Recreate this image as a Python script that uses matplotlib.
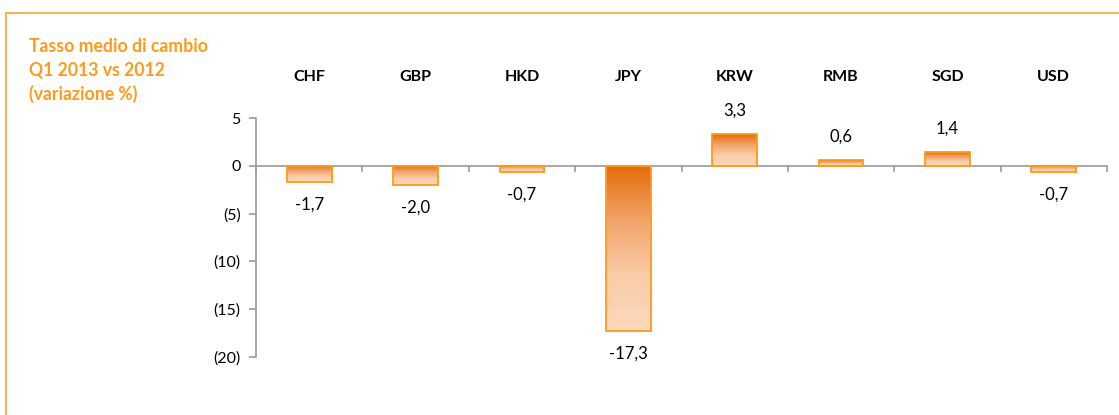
import matplotlib
matplotlib.use("Agg")
import matplotlib.pyplot as plt
import numpy as np
from matplotlib.colors import LinearSegmentedColormap
from matplotlib.patches import Rectangle
from matplotlib.lines import Line2D

categories = ["CHF", "GBP", "HKD", "JPY", "KRW", "RMB", "SGD", "USD"]
values = [-1.7, -2.0, -0.7, -17.3, 3.3, 0.6, 1.4, -0.7]
labels = ["-1,7", "-2,0", "-0,7", "-17,3", "3,3", "0,6", "1,4", "-0,7"]
yticks = [5, 0, -5, -10, -15, -20]
yticklabels = ["5", "0", "(5)", "(10)", "(15)", "(20)"]
title_lines = ["Tasso medio di cambio", "Q1 2013 vs 2012", "(variazione %)"]

plt.rcParams['font.family'] = ['Lato', 'DejaVu Sans']
fig = plt.figure(figsize=(11.19, 4.15), dpi=100)
W, H = 1119, 415
ax = fig.add_axes([256 / W, 1 - 357 / H, (1107 - 256) / W, (357 - 118) / H])

n = len(categories)
bw = 0.42
cmap = LinearSegmentedColormap.from_list("g", ["#E46C0A", "#F2A46A", "#F9CDA8", "#FBD8BC"])
grad = np.linspace(0, 1, 256).reshape(-1, 1)
for i, v in enumerate(values):
    top, bot = max(v, 0), min(v, 0)
    x0 = i - bw / 2
    rect = Rectangle((x0, bot), bw, top - bot, facecolor="none", edgecolor="#FF9A1A", lw=1.3, zorder=4)
    ax.add_patch(rect)
    im = ax.imshow(grad, cmap=cmap, aspect="auto", extent=(x0, x0 + bw, bot, top), origin="upper", zorder=3)
    im.set_clip_path(rect)
    if v >= 0:
        ax.text(i, v + 1.6, labels[i], ha="center", va="bottom", fontsize=12, color="#000000")
    else:
        ax.text(i, v - 1.5, labels[i], ha="center", va="top", fontsize=12, color="#000000")
ax.set_xlim(-0.5, n - 0.5)
ax.set_ylim(-20, 5)

for s in ["top", "right", "bottom"]:
    ax.spines[s].set_visible(False)
ax.spines["left"].set_color("#9A9A9A")
ax.spines["left"].set_linewidth(1.2)
ax.axhline(0, color="#9A9A9A", lw=1.2, zorder=2)
for k in range(n + 1):
    ax.plot([k - 0.5, k - 0.5], [0, -0.55], color="#9A9A9A", lw=1.2, clip_on=False, zorder=2)
ax.set_xticks([])
ax.set_yticks(yticks)
ax.set_yticklabels(yticklabels, fontsize=11.5)
ax.tick_params(axis="y", length=5, color="#9A9A9A", width=1.2, pad=6)

for i, c in enumerate(categories):
    fig.text((256 + (i + 0.5) * (1107 - 256) / n) / W, 1 - 77 / H, c, ha="center", va="center",
             fontsize=11.5, fontweight="bold", color="#000000")

for j, t in enumerate(title_lines):
    fig.text(29 / W, 1 - (47 + 23.5 * j) / H, t, ha="left", va="center", fontsize=12.7,
             fontweight="bold", color="#FF9A1A")

fig.add_artist(Line2D([6 / W, 1], [1 - 13 / H, 1 - 13 / H], color="#FFA033", lw=1.2, transform=fig.transFigure))
fig.add_artist(Line2D([6 / W, 6 / W], [1 - 13 / H, 0], color="#FFA033", lw=1.2, transform=fig.transFigure))

fig.savefig("out.png", dpi=100)
